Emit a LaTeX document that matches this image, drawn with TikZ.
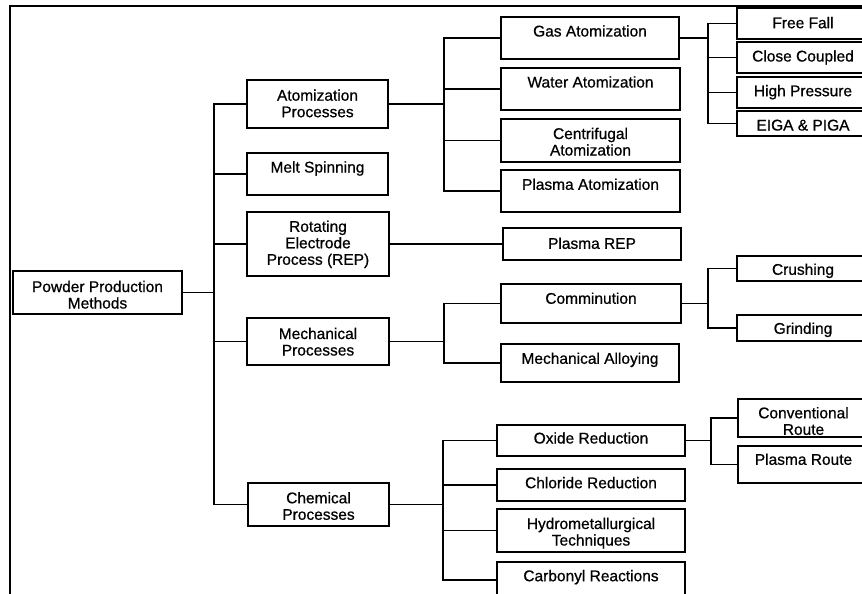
\documentclass[tikz,border=0pt]{standalone}
\usepackage{fontspec}
\setmainfont{Liberation Sans}
\newfontfamily\lblfont{Liberation Sans}[FakeBold=0.7]
\tikzset{
  box/.style={draw, rectangle, line width=1.6pt, inner sep=0pt, outer sep=0pt},
  lbl/.style={font=\lblfont\fontsize{15.5}{16.5}\selectfont, align=center, inner sep=0pt, anchor=base},
  conn/.style={line width=1.6pt},
  frame/.style={line width=1.1pt},
}
% name, x1, y1, x2, y2, baseline y of last line, text
\newcommand\Bx[7]{%
  \pgfmathsetmacro\BxCx{(#2+#4)/2}%
  \pgfmathsetmacro\BxCy{(#3+#5)/2}%
  \pgfmathsetmacro\BxW{#4-#2}%
  \pgfmathsetmacro\BxH{#5-#3}%
  \node[box, minimum width=\BxW pt, minimum height=\BxH pt] (#1) at (\BxCx,\BxCy) {};
  \node[lbl] (#1t) at (\BxCx,#6) {#7};%
}
\begin{document}
\begin{tikzpicture}[x=1pt,y=-1pt]
\useasboundingbox (0,0) rectangle (862,594);
\clip (0,0) rectangle (862,594);
\draw[frame] (10,600) -- (10,6) -- (870,6);

\Bx{root}{13}{271}{182}{314}{308.5}{Powder Production\\Methods}
\Bx{atom}{247}{80}{388}{128}{117.2}{Atomization\\Processes}
\Bx{melt}{247}{153}{388}{195}{172.5}{Melt Spinning}
\Bx{rep}{247}{212}{389}{276}{264.8}{Rotating\\Electrode\\Process (REP)}
\Bx{mech}{247}{318}{389}{365}{355.5}{Mechanical\\Processes}
\Bx{chem}{248}{483}{389}{526}{519.8}{Chemical\\Processes}

\Bx{gas}{501}{17}{679}{59}{36.5}{Gas Atomization}
\Bx{water}{501}{68}{680}{110}{87.5}{Water Atomization}
\Bx{centrif}{501}{119}{680}{162}{155.5}{Centrifugal\\Atomization}
\Bx{patom}{501}{170}{680}{212}{189.8}{Plasma Atomization}
\Bx{prep}{503}{228}{681}{260}{248.8}{Plasma REP}
\Bx{commin}{501}{284}{681}{323}{303.8}{Comminution}
\Bx{malloy}{501}{344}{679}{382}{363.8}{Mechanical Alloying}
\Bx{oxide}{497}{425}{685}{456}{443.5}{Oxide Reduction}
\Bx{chlor}{497}{469}{685}{501}{488.2}{Chloride Reduction}
\Bx{hydro}{497}{509}{685}{552}{545.5}{Hydrometallurgical\\Techniques}
\Bx{carb}{497}{562}{685}{598}{581.2}{Carbonyl Reactions}

\Bx{free}{737}{8}{869}{39}{28.2}{Free Fall}
\Bx{close}{737}{42}{869}{73}{61.5}{Close Coupled}
\Bx{high}{737}{77}{869}{108}{96.2}{High Pressure}
\Bx{eiga}{737}{111}{869}{136}{130.5}{EIGA \& PIGA}
\Bx{crush}{737}{256}{869}{281}{274.8}{Crushing}
\Bx{grind}{737}{315}{869}{341}{333.8}{Grinding}
\Bx{conv}{738}{399}{869}{437}{434.8}{Conventional\\Route}
\Bx{proute}{738}{446}{869}{483}{464.8}{Plasma Route}

\coordinate (xa) at (214,0);
\coordinate (xb) at (444,0);
\coordinate (xc) at (708,0);
\coordinate (xd) at (443,0);
\coordinate (xe) at (711,0);

\draw[conn] (root.east) -- (root.east -| xa);
\foreach \c in {atom,melt,rep,mech,chem} \draw[conn] (root.east -| xa) |- (\c.west);

\draw[conn] (atom.east) -- (atom.east -| xb);
\foreach \c in {gas,water,centrif,patom} \draw[conn] (atom.east -| xb) |- (\c.west);

\draw[conn] (gas.east) -- (gas.east -| xc);
\foreach \c in {free,close,high,eiga} \draw[conn] (gas.east -| xc) |- (\c.west);

\draw[conn] (rep.east) -- (prep.west);

\draw[conn] (mech.east) -- (mech.east -| xb);
\foreach \c in {commin,malloy} \draw[conn] (mech.east -| xb) |- (\c.west);

\draw[conn] (commin.east) -- (commin.east -| xc);
\foreach \c in {crush,grind} \draw[conn] (commin.east -| xc) |- (\c.west);

\draw[conn] (chem.east) -- (chem.east -| xd);
\foreach \c in {oxide,chlor,hydro,carb} \draw[conn] (chem.east -| xd) |- (\c.west);

\draw[conn] (oxide.east) -- (oxide.east -| xe);
\foreach \c in {conv,proute} \draw[conn] (oxide.east -| xe) |- (\c.west);
\end{tikzpicture}
\end{document}
